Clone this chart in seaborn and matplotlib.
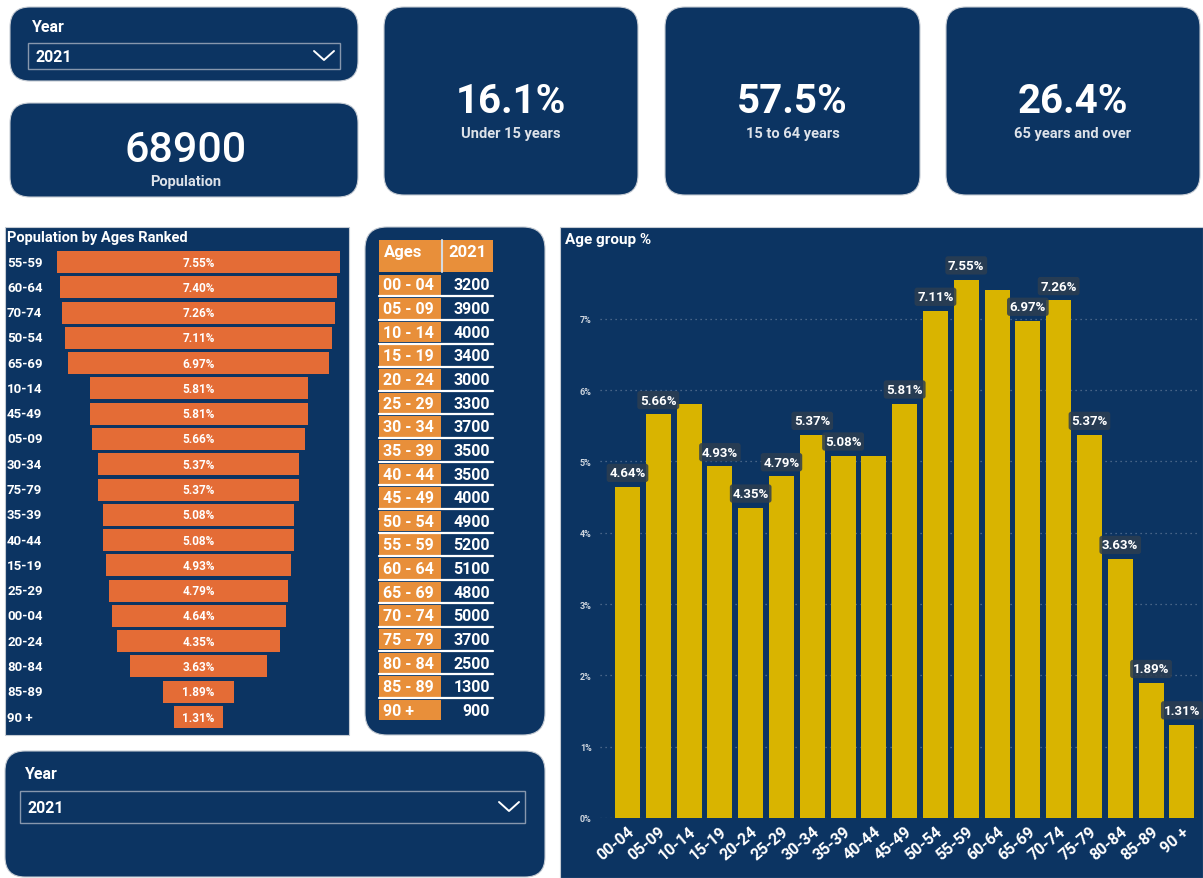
import numpy as np
import pandas as pd
import matplotlib
matplotlib.use("Agg")
import matplotlib.pyplot as plt
import matplotlib.transforms as mtransforms
from matplotlib.patches import FancyBboxPatch, Rectangle
import seaborn as sns

# --- data, Year = 2021 ---
year = "2021"
ages = ["00-04", "05-09", "10-14", "15-19", "20-24", "25-29", "30-34", "35-39",
        "40-44", "45-49", "50-54", "55-59", "60-64", "65-69", "70-74", "75-79",
        "80-84", "85-89", "90 +"]
population = [3200, 3900, 4000, 3400, 3000, 3300, 3700, 3500, 3500, 4000,
              4900, 5200, 5100, 4800, 5000, 3700, 2500, 1300, 900]
age_pct = [4.64, 5.66, 5.81, 4.93, 4.35, 4.79, 5.37, 5.08, 5.08, 5.81,
           7.11, 7.55, 7.40, 6.97, 7.26, 5.37, 3.63, 1.89, 1.31]
# labels Power BI dropped on the column chart (they would overlap)
hidden_labels = ["10-14", "40-44", "60-64"]
total_population = "68900"
kpi_values = ["16.1%", "57.5%", "26.4%"]
kpi_names = ["Under 15 years", "15 to 64 years", "65 years and over"]

NAVY = "#0c3462"
ORANGE = "#e46c36"
TABLE_ORANGE = "#e88f3a"
YELLOW = "#d9b400"
GRID = "#5d7594"
EDGE = "#c5cbd3"

sns.set_theme(style="white")
plt.rcParams["font.family"] = ["Roboto", "DejaVu Sans"]

W, H = 1203, 879
fig = plt.figure(figsize=(W / 100, H / 100), dpi=100)
fig.patch.set_facecolor("white")


def px_axes(x0, y0, x1, y1):
    return fig.add_axes([x0 / W, 1 - y1 / H, (x1 - x0) / W, (y1 - y0) / H])


# background layer, 1 data unit = 1 pixel, y downwards
bg = px_axes(0, 0, W, H)
bg.set_xlim(0, W)
bg.set_ylim(H, 0)
bg.axis("off")


def card(x0, y0, x1, y1, r=20):
    bg.add_patch(FancyBboxPatch((x0 + r, y0 + r), x1 - x0 - 2 * r, y1 - y0 - 2 * r,
                                boxstyle=f"round,pad={r}", fc=NAVY, ec=EDGE, lw=0.8))


def dropdown(x0, y0, x1, y1, label_xy):
    bg.text(label_xy[0], label_xy[1], "Year", color="white", fontsize=11.5,
            fontweight="bold", va="center")
    bg.add_patch(Rectangle((x0, y0), x1 - x0, y1 - y0, fc="none", ec="#8797ad", lw=1))
    ym = (y0 + y1) / 2
    bg.text(x0 + 8, ym + 1, year, color="white", fontsize=11.5, fontweight="bold", va="center")
    bg.plot([x1 - 26, x1 - 16, x1 - 6], [ym - 5, ym + 4, ym - 5], color="white", lw=1.4)


# --- slicers and cards ---
card(10, 8, 358, 82)
dropdown(28, 44, 340, 70, (32, 28))

card(10, 104, 358, 198)
bg.text(186, 150, total_population, color="white", fontsize=31, fontweight="medium",
        ha="center", va="center")
bg.text(186, 182, "Population", color="#dde2e9", fontsize=10.5, fontweight="bold",
        ha="center", va="center")

for (x0, x1), val, name in zip([(384, 638), (665, 920), (946, 1200)], kpi_values, kpi_names):
    card(x0, 8, x1, 196)
    cx = (x0 + x1) / 2
    bg.text(cx, 102, val, color="white", fontsize=29, fontweight="bold",
            ha="center", va="center")
    bg.text(cx, 134, name, color="#dde2e9", fontsize=10.5, fontweight="bold",
            ha="center", va="center")

card(5, 752, 545, 878)
dropdown(20, 792, 525, 824, (25, 775))

# --- funnel: population by ages ranked ---
bg.add_patch(Rectangle((5, 228), 344, 508, fc=NAVY, ec=EDGE, lw=0.8))
bg.text(7, 238, "Population by Ages Ranked", color="white", fontsize=10.5,
        fontweight="bold", va="center")

df = pd.DataFrame({"age": ages, "pop": population, "pct": age_pct})
ranked = df.sort_values("pct", ascending=False, kind="stable").reset_index(drop=True)

fx = px_axes(5, 228, 349, 736)
fx.set_facecolor("none")
rows = np.arange(len(ranked))
fx.barh(rows, ranked["pct"], left=-ranked["pct"] / 2, height=0.87, color=ORANGE,
        edgecolor="none", linewidth=0)
fx.set_xlim(-5.16, 4.01)
fx.set_ylim(18.71, -1.385)
fx.axis("off")
trans = mtransforms.blended_transform_factory(fx.transAxes, fx.transData)
for i, r in ranked.iterrows():
    fx.text(2 / 344, i, r["age"], transform=trans, color="white", fontsize=9.5,
            fontweight="bold", ha="left", va="center")
    fx.text(0, i, f"{r['pct']:.2f}%", color="white", fontsize=8.5,
            fontweight="bold", ha="center", va="center")

# --- table: ages / population ---
card(365, 228, 545, 736, r=22)
bg.add_patch(Rectangle((379, 241), 62, 32, fc=TABLE_ORANGE, ec="none"))
bg.add_patch(Rectangle((443, 241), 50, 32, fc=TABLE_ORANGE, ec="none"))
bg.plot([442, 442], [241, 273], color="#d5dbe2", lw=1.5)
bg.text(384, 253, "Ages", color="white", fontsize=12, fontweight="bold", va="center")
bg.text(448, 253, year, color="white", fontsize=12, fontweight="bold", va="center")
row0, row_h = 275.5, 23.63
for i, (a, p) in enumerate(zip(ages, population)):
    top = row0 + i * row_h
    bg.add_patch(Rectangle((379, top), 62, 20.5, fc=TABLE_ORANGE, ec="none"))
    bg.text(383, top + 10.5, a.replace("-", " - "), color="white", fontsize=11.5,
            fontweight="bold", va="center")
    bg.text(490, top + 10.5, f"{p}", color="white", fontsize=11.5,
            fontweight="bold", va="center", ha="right")
    if i < len(ages) - 1:
        bg.plot([379, 493], [top + 21.8] * 2, color="white", lw=1.6)

# --- column chart: age group % ---
bg.add_patch(Rectangle((560, 228), 643, 651, fc=NAVY, ec=EDGE, lw=0.8))
bg.text(565, 240, "Age group %", color="white", fontsize=11, fontweight="bold", va="center")

ax = px_axes(600, 250, 1200, 819)
ax.set_facecolor("none")
sns.barplot(data=df, x="age", y="pct", color=YELLOW, saturation=1, width=0.81,
            edgecolor="none", linewidth=0, ax=ax, zorder=3)
ax.set_xlim(-0.893, 18.59)
ax.set_ylim(0, 7.98)
ax.set_yticks(range(8))
ax.set_yticklabels([f"{t}%" for t in range(8)])
ax.grid(axis="y", color=GRID, lw=0.9, linestyle=(0, (1, 3)))
ax.grid(axis="x", visible=False)
ax.set_axisbelow(True)
for s in ax.spines.values():
    s.set_visible(False)
ax.set_xlabel("")
ax.set_ylabel("")
ax.tick_params(axis="y", length=0, pad=6, labelsize=6.5, labelcolor="#cfd6df")
ax.tick_params(axis="x", length=0, pad=4)
plt.setp(ax.get_yticklabels(), fontweight="bold")
plt.setp(ax.get_xticklabels(), rotation=40, ha="right", va="top", rotation_mode="anchor",
         fontsize=11.5, fontweight="bold", color="white")

for i, r in df.iterrows():
    if r["age"] in hidden_labels:
        continue
    ax.text(i, r["pct"] + 0.2, f"{r['pct']:.2f}%", color="white", fontsize=9.5,
            fontweight="bold", ha="center", va="center", zorder=5,
            bbox=dict(boxstyle="round,pad=0.2", fc="#2d3e51", ec="none", alpha=0.85))

fig.savefig("out.png", dpi=100, facecolor="white")
